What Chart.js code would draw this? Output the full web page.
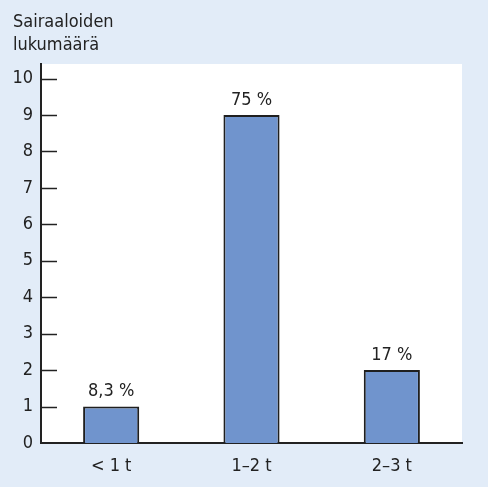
<!DOCTYPE html>
<html><head><meta charset="utf-8">
<script src="https://cdn.jsdelivr.net/npm/chart.js@4/dist/chart.umd.min.js"></script>
<style>html,body{margin:0;padding:0;background:#e2ecf8;}#w{width:488px;height:487px;}</style>
</head><body><div id="w"><canvas id="c" width="488" height="487"></canvas></div>
<script>
const categories = ['< 1 t', '1–2 t', '2–3 t'];
const hospitalCounts = [1, 9, 2];
const percentLabels = ['8,3 %', '75 %', '17 %'];
const yTitleLines = ['Sairaaloiden', 'lukumäärä'];
const yTicks = [0,1,2,3,4,5,6,7,8,9,10];

const FONT = '"Liberation Sans Narrow", "DejaVu Sans Condensed", sans-serif';
const INK = '#222222';

const decor = {
  id: 'decor',
  beforeDraw(chart) {
    const {ctx, chartArea: a} = chart;
    ctx.save();
    ctx.fillStyle = '#e2ecf8';
    ctx.fillRect(0, 0, chart.width, chart.height);
    ctx.fillStyle = '#ffffff';
    ctx.fillRect(a.left, a.top, a.right - a.left, a.bottom - a.top);
    ctx.restore();
  },
  afterDatasetsDraw(chart) {
    const {ctx, chartArea: a} = chart;
    const ys = chart.scales.y;
    ctx.save();
    // inward tick marks
    ctx.strokeStyle = INK;
    ctx.lineWidth = 1.5;
    yTicks.forEach(v => {
      if (v === 0) return;
      const y = Math.round(ys.getPixelForValue(v)) + 0.5;
      ctx.beginPath();
      ctx.moveTo(a.left, y);
      ctx.lineTo(a.left + 16, y);
      ctx.stroke();
    });
    // value labels
    ctx.fillStyle = INK;
    ctx.font = '18px ' + FONT;
    ctx.textAlign = 'center';
    ctx.textBaseline = 'bottom';
    const meta = chart.getDatasetMeta(0);
    meta.data.forEach((bar, i) => {
      ctx.fillText(percentLabels[i], bar.x, bar.y - 6);
    });
    // y title
    ctx.textAlign = 'left';
    ctx.textBaseline = 'alphabetic';
    yTitleLines.forEach((t, i) => ctx.fillText(t, 13, 27 + i * 23));
    ctx.restore();
  }
};

new Chart(document.getElementById('c'), {
  type: 'bar',
  data: {
    labels: categories,
    datasets: [{
      data: hospitalCounts,
      backgroundColor: '#7094cd',
      borderColor: '#1f1f1f',
      borderWidth: 2,
      borderSkipped: 'bottom',
      barPercentage: 0.4,
      categoryPercentage: 1.0
    }]
  },
  options: {
    responsive: false,
    animation: false,
    layout: {padding: {top: 64, right: 26, left: 0, bottom: 0}},
    plugins: {legend: {display: false}, tooltip: {enabled: false}},
    scales: {
      x: {
        grid: {display: false, drawTicks: false},
        border: {display: true, color: INK, width: 2},
        ticks: {color: INK, font: {size: 18, family: FONT}, padding: 13},
        afterFit(s) { s.height = 44; }
      },
      y: {
        min: 0, max: 10.4,
        afterBuildTicks(s) { s.ticks = yTicks.map(v => ({value: v})); },
        grid: {display: false, drawTicks: false},
        border: {display: true, color: INK, width: 2},
        ticks: {color: INK, font: {size: 18, family: FONT}, padding: 8},
        afterFit(s) { s.width = 41; }
      }
    }
  },
  plugins: [decor]
});
</script></body></html>
